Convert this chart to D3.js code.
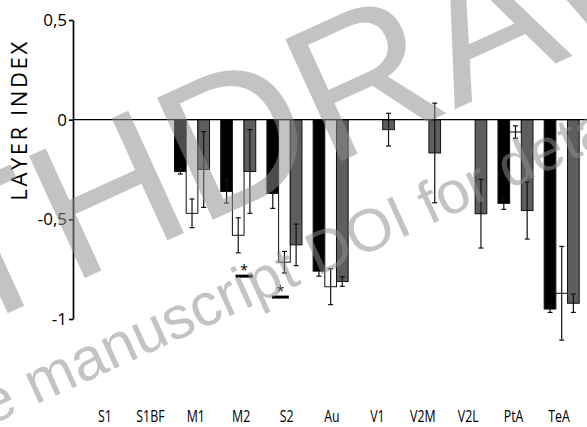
<!DOCTYPE html>
<html><head><meta charset="utf-8">
<script src="https://cdn.jsdelivr.net/npm/d3@7"></script>
<style>body{margin:0;background:#fff} svg{display:block}</style>
</head><body>
<svg id="chart" width="587" height="427"></svg>
<script>
var categories = ["S1","S1BF","M1","M2","S2","Au","V1","V2M","V2L","PtA","TeA"];
// layer index per area and per group, null = no bar
var blackMean = [null,null,-0.26,-0.36,-0.37,-0.76,null,null,null,-0.42,-0.95];
var blackErr  = [null,null,0.013,0.058,0.075,0.025,null,null,null,0.03,0.017];
var whiteMean = [null,null,-0.47,-0.58,-0.715,-0.838,null,null,null,-0.062,-0.871];
var whiteErr  = [null,null,0.072,0.088,0.054,0.09,null,null,null,0.031,0.235];
var grayMean  = [null,null,-0.25,-0.26,-0.628,-0.812,-0.05,-0.167,-0.472,-0.456,-0.921];
var grayErr   = [null,null,0.19,0.21,0.104,0.024,0.082,0.25,0.172,0.143,0.046];
var groups = ["black","white","gray"];
var groupFill = {black:"#000", white:"#fff", gray:"#5e5e5e"};
var yTicks = [0.5, 0, -0.5, -1];
// significance marks: area, position inside the group (in bar widths), value
var sigMarks = [{cat:"M2", pos:2, value:-0.785}, {cat:"S2", pos:1.15, value:-0.89}];

var svg = d3.select("#chart");

var x = d3.scaleBand().domain(categories).range([76.5, 584.8]).paddingInner(0.242).paddingOuter(0.121);
var xg = d3.scaleBand().domain(groups).range([0, x.bandwidth()]);
var xLabel = d3.scalePoint().domain(categories).range([105, 559]);
var y = d3.scaleLinear().domain([-1, 0.5]).range([319, 20]);

var rows = [];
categories.forEach(function(c, i) {
  [[blackMean, blackErr, "black"], [whiteMean, whiteErr, "white"], [grayMean, grayErr, "gray"]].forEach(function(s) {
    if (s[0][i] != null) rows.push({cat: c, group: s[2], v: s[0][i], e: s[1][i]});
  });
});

var g = svg.append("g");

// bars
g.selectAll("rect.bar").data(rows).enter().append("rect")
  .attr("class", "bar")
  .attr("x", function(d) { return x(d.cat) + xg(d.group); })
  .attr("y", y(0))
  .attr("width", xg.bandwidth())
  .attr("height", function(d) { return y(d.v) - y(0); })
  .attr("fill", function(d) { return groupFill[d.group]; })
  .attr("stroke", "#111")
  .attr("stroke-width", 1);

// error bars
var eb = g.selectAll("g.err").data(rows).enter().append("g")
  .attr("class", "err")
  .attr("transform", function(d) { return "translate(" + (x(d.cat) + xg(d.group) + xg.bandwidth() / 2) + ",0)"; })
  .attr("stroke", "#111").attr("stroke-width", 1.2);
eb.append("line").attr("x1", 0).attr("x2", 0)
  .attr("y1", function(d) { return y(d.v + d.e); })
  .attr("y2", function(d) { return y(d.v - d.e); });
eb.append("line").attr("x1", -2.5).attr("x2", 2.5)
  .attr("y1", function(d) { return y(d.v + d.e); })
  .attr("y2", function(d) { return y(d.v + d.e); });
eb.append("line").attr("x1", -2.5).attr("x2", 2.5)
  .attr("y1", function(d) { return y(d.v - d.e); })
  .attr("y2", function(d) { return y(d.v - d.e); });

// zero line
g.append("line")
  .attr("x1", 73).attr("x2", 587)
  .attr("y1", y(0)).attr("y2", y(0))
  .attr("stroke", "#000").attr("stroke-width", 1.4);

// y axis
var yAxis = g.append("g")
  .attr("transform", "translate(73,0)")
  .call(d3.axisLeft(y).tickValues(yTicks).tickSize(4).tickSizeOuter(0)
    .tickFormat(function(d) { return d === 0 ? "0" : String(d).replace(".", ","); }));
yAxis.select(".domain").attr("stroke-width", 1.7);
yAxis.selectAll(".tick line").attr("stroke-width", 1.7);
yAxis.selectAll("text")
  .attr("font-family", "'Open Sans', sans-serif")
  .attr("font-size", 17)
  .attr("fill", "#000")
  .attr("x", -6);

g.append("text")
  .attr("transform", "translate(27,120) rotate(-90)")
  .attr("text-anchor", "middle")
  .attr("font-family", "'Open Sans', sans-serif")
  .attr("font-size", 22)
  .attr("letter-spacing", 2.6)
  .text("LAYER INDEX");

// category labels
g.selectAll("text.cat").data(categories).enter().append("text")
  .attr("class", "cat")
  .attr("transform", function(d) { return "translate(" + xLabel(d) + ",422) scale(0.75,1)"; })
  .attr("text-anchor", "middle")
  .attr("font-family", "'Open Sans', sans-serif")
  .attr("font-size", 16.5)
  .text(function(d) { return d; });

// significance marks
var sm = g.selectAll("g.sig").data(sigMarks).enter().append("g")
  .attr("class", "sig")
  .attr("transform", function(d) { return "translate(" + (x(d.cat) + d.pos * xg.bandwidth()) + "," + y(d.value) + ")"; });
sm.append("line").attr("x1", -8.5).attr("x2", 8.5).attr("y1", 0).attr("y2", 0)
  .attr("stroke", "#000").attr("stroke-width", 3);
sm.append("text").attr("x", 0).attr("y", -1)
  .attr("text-anchor", "middle")
  .attr("font-family", "'Open Sans', sans-serif")
  .attr("font-size", 14)
  .text("*");

// watermark
var wm = svg.append("g").attr("fill", "#8e8e8e").attr("fill-opacity", 0.53)
  .attr("font-family", "'Liberation Sans', Arial, sans-serif");
wm.append("text")
  .attr("transform", "translate(-255,433) rotate(-24.5)")
  .attr("font-size", 195)
  .text("WITHDRAWN");
wm.append("text")
  .attr("transform", "translate(-68,452) rotate(-24.5)")
  .attr("font-size", 60)
  .text("see manuscript DOI for details");
</script>
</body></html>
